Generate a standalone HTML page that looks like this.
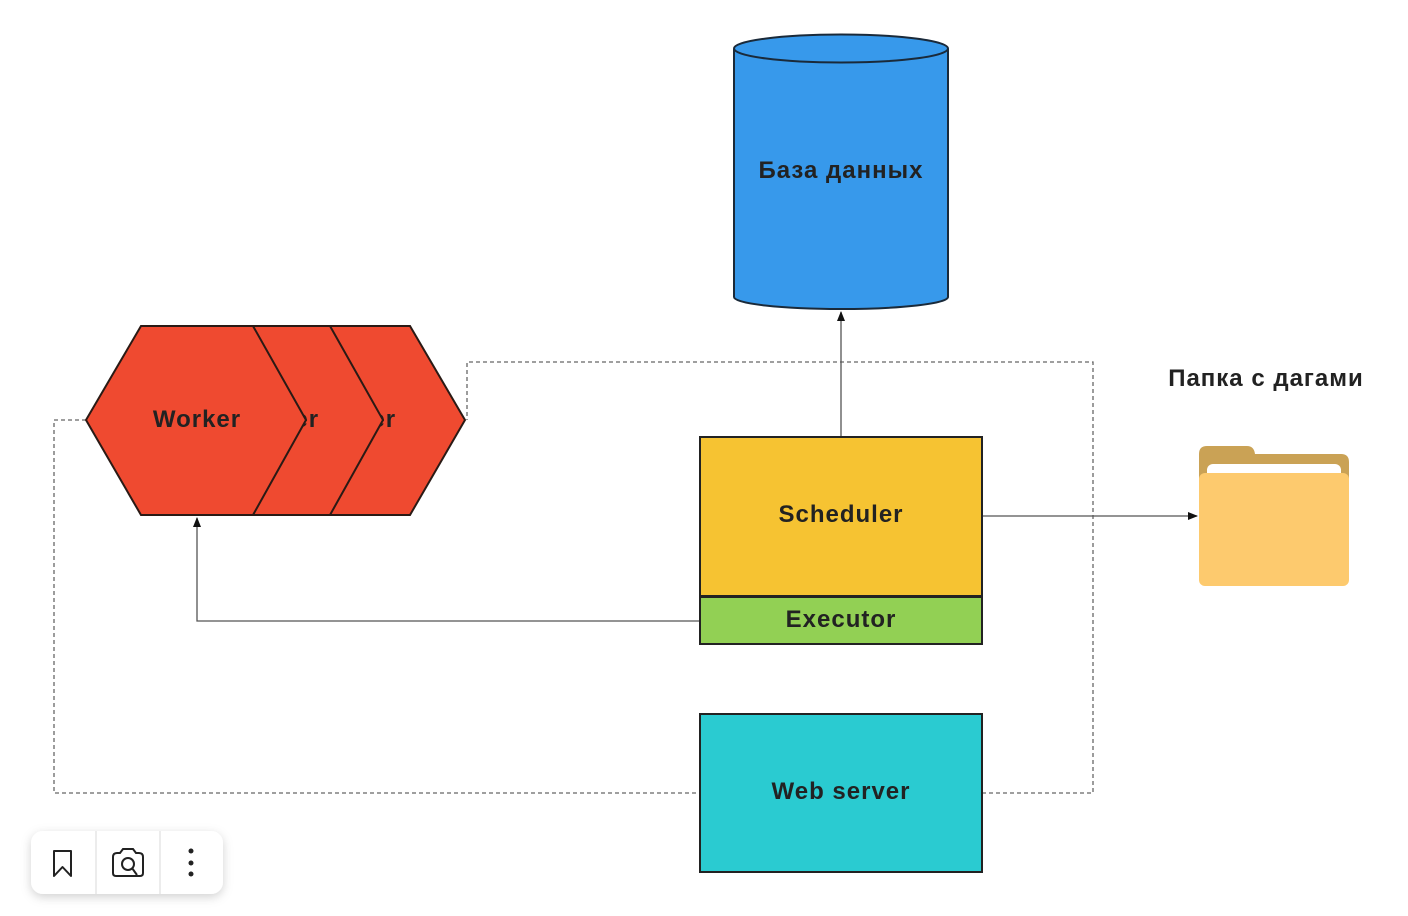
<!DOCTYPE html>
<html><head><meta charset="utf-8"><style>
html,body{margin:0;padding:0;background:#fff;width:1408px;height:916px;overflow:hidden}
svg{display:block}
text{font-family:"Liberation Sans","DejaVu Sans",sans-serif;font-weight:bold;fill:#222;letter-spacing:1px}
</style></head><body>
<svg width="1408" height="916" viewBox="0 0 1408 916" xmlns="http://www.w3.org/2000/svg">
<defs>
<marker id="ah" markerWidth="10" markerHeight="8" refX="9" refY="4" orient="auto" markerUnits="userSpaceOnUse">
<path d="M0,0 L10,4 L0,8 z" fill="#111"/></marker>
<filter id="sh" x="-20%" y="-30%" width="140%" height="170%"><feDropShadow dx="0" dy="3" stdDeviation="5" flood-color="#000" flood-opacity="0.18"/></filter>
</defs>
<g fill="none" stroke="#666" stroke-width="1.3" stroke-dasharray="4,3">
<path d="M86,420 H54 V793 H699"/>
<path d="M982,793 H1093 V362 H467 V420"/>
</g>
<g fill="none" stroke="#555" stroke-width="1.3">
<path d="M699,621 H197 V518" marker-end="url(#ah)"/>
<path d="M841,437 V312" marker-end="url(#ah)"/>
<path d="M983,516 H1197" marker-end="url(#ah)"/>
</g>
<path d="M734,49 V297 A107,12 0 0 0 948,297 V49" fill="#3799EB" stroke="#1a2a3a" stroke-width="2"/>
<ellipse cx="841" cy="48.5" rx="107" ry="14" fill="#3799EB" stroke="#1a2a3a" stroke-width="2"/>
<text x="841" y="178" text-anchor="middle" font-size="24">База данных</text>
<g stroke="#2a1a15" stroke-width="2" fill="#EF4A30">
<polygon points="218,420 273,326 410,326 465,420 410,515 273,515"/>
<text x="352" y="427" text-anchor="middle" font-size="24" stroke="none">Worker</text>
<polygon points="141,420 196,326 330,326 383,420 330,515 196,515"/>
<text x="275" y="427" text-anchor="middle" font-size="24" stroke="none">Worker</text>
<polygon points="86,420 141,326 253,326 306,420 253,515 141,515"/>
<text x="197" y="427" text-anchor="middle" font-size="24" stroke="none">Worker</text>
</g>
<rect x="700" y="437" width="282" height="159" fill="#F6C332" stroke="#222" stroke-width="2"/>
<text x="841" y="522" text-anchor="middle" font-size="24">Scheduler</text>
<rect x="700" y="597" width="282" height="47" fill="#92D054" stroke="#222" stroke-width="2"/>
<text x="841" y="627" text-anchor="middle" font-size="24">Executor</text>
<rect x="700" y="714" width="282" height="158" fill="#2ACBD1" stroke="#222" stroke-width="2"/>
<text x="841" y="799" text-anchor="middle" font-size="24">Web server</text>
<text x="1266" y="386" text-anchor="middle" font-size="24">Папка с дагами</text>
<path d="M1199,454 Q1199,446 1207,446 H1247 Q1254,446 1255,454 H1341 Q1349,454 1349,462 V500 H1199 Z" fill="#CAA255"/>
<rect x="1207" y="464" width="134" height="30" rx="6" fill="#fff"/>
<rect x="1199" y="473" width="150" height="113" rx="6" fill="#FDCA6E"/>
<g filter="url(#sh)"><rect x="31" y="831" width="192" height="63" rx="12" fill="#fff"/></g>
<line x1="96" y1="831" x2="96" y2="894" stroke="#e6e6e6" stroke-width="1.5"/>
<line x1="160" y1="831" x2="160" y2="894" stroke="#e6e6e6" stroke-width="1.5"/>
<path d="M54,851 H71 V876 L62.5,867 L54,876 Z" fill="none" stroke="#222" stroke-width="2" stroke-linejoin="round"/>
<path d="M113,857 Q113,853 117,853 H120 L123,849 H133 L136,853 H139 Q143,853 143,857 V873 Q143,876 140,876 H116 Q113,876 113,873 Z" fill="none" stroke="#222" stroke-width="2"/>
<circle cx="128" cy="864" r="6" fill="none" stroke="#222" stroke-width="2"/>
<line x1="132" y1="868" x2="137" y2="875" stroke="#222" stroke-width="2"/>
<circle cx="191" cy="851" r="2.5" fill="#222"/><circle cx="191" cy="863" r="2.5" fill="#222"/><circle cx="191" cy="874" r="2.5" fill="#222"/>
</svg>
</body></html>
